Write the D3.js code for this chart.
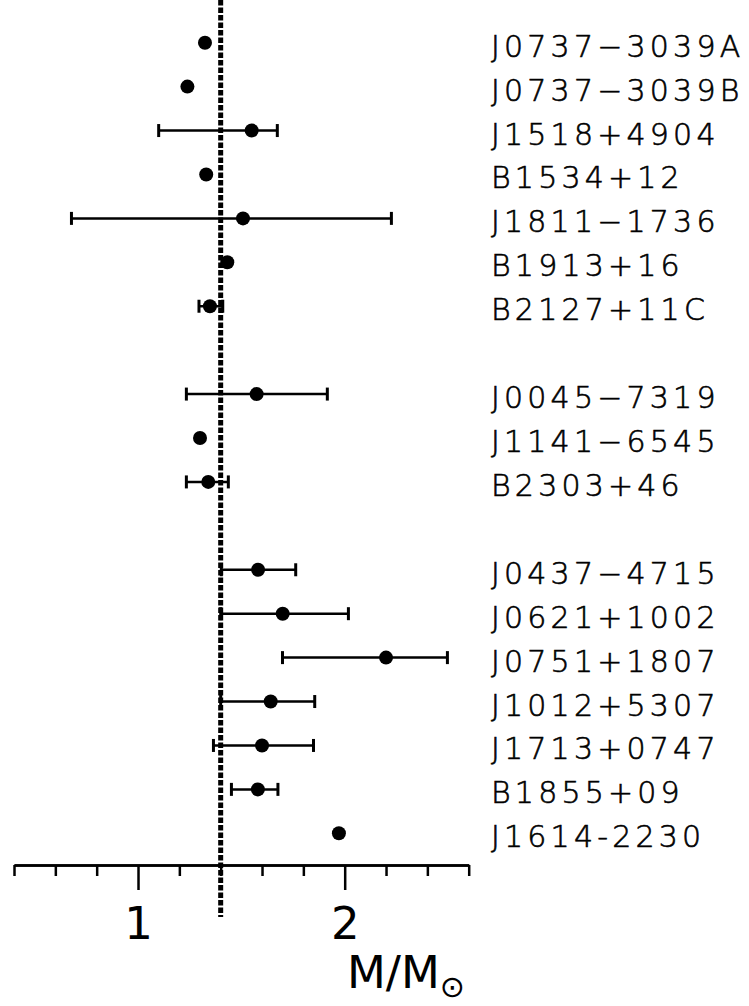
<!DOCTYPE html>
<html>
<head>
<meta charset="utf-8">
<script src="https://cdn.jsdelivr.net/npm/d3@7"></script>
<style>
  body { margin: 0; background: #fff; }
  svg { display: block; }
</style>
</head>
<body>
<div id="chart"></div>
<script>
// pulsar names, one per row (null = empty separator row)
const names = [
  "J0737\u22123039A", "J0737\u22123039B", "J1518+4904", "B1534+12", "J1811\u22121736",
  "B1913+16", "B2127+11C", null,
  "J0045\u22127319", "J1141\u22126545", "B2303+46", null,
  "J0437\u22124715", "J0621+1002", "J0751+1807", "J1012+5307", "J1713+0747",
  "B1855+09", "J1614-2230"
];
// mass in solar masses, and error bar ends (null = no visible bar)
const mass = [1.324, 1.239, 1.55, 1.33, 1.508, 1.432, 1.348, null,
  1.574, 1.30, 1.34, null,
  1.581, 1.70, 2.20, 1.642, 1.60, 1.58, 1.972];
const errLow = [null, null, 1.10, null, 0.678, null, 1.295, null,
  1.234, null, 1.234, null,
  1.403, 1.40, 1.699, 1.40, 1.365, 1.452, null];
const errHigh = [null, null, 1.674, null, 2.226, null, 1.41, null,
  1.916, null, 1.437, null,
  1.763, 2.018, 2.497, 1.855, 1.849, 1.677, null];

const minorTicks = [0.4, 0.6, 0.8, 1.2, 1.4, 1.6, 1.8, 2.2, 2.4, 2.6];
const majorTicks = [1, 2];
const refMass = 1.4;

const width = 749, height = 1006;

const svg = d3.select("#chart").append("svg")
  .attr("width", width)
  .attr("height", height);

const x = d3.scaleLinear().domain([0.4, 2.6]).range([14, 468.7]);
const y = d3.scaleLinear().domain([0, 18]).range([42.7, 833.3]);

const rows = names.map((n, i) => ({ name: n, m: mass[i], lo: errLow[i], hi: errHigh[i], i }))
  .filter(d => d.name !== null);

// dashed reference line
svg.append("line")
  .attr("x1", x(refMass)).attr("x2", x(refMass))
  .attr("y1", 0).attr("y2", 917)
  .attr("stroke", "#000")
  .attr("stroke-width", 5)
  .attr("stroke-dasharray", "5.5,2");

// axis
const axisY = 865;
const minorAxis = d3.axisBottom(x).tickValues(minorTicks).tickSize(11).tickSizeOuter(0).tickFormat("");
const majorAxis = d3.axisBottom(x).tickValues(majorTicks).tickSize(25).tickSizeOuter(0).tickPadding(17)
  .tickFormat(d3.format("d"));

const gMinor = svg.append("g").attr("transform", `translate(0,${axisY})`).call(minorAxis);
const gMajor = svg.append("g").attr("transform", `translate(0,${axisY})`).call(majorAxis);
[gMinor, gMajor].forEach(g => {
  g.selectAll("path, line").attr("stroke", "#000").attr("stroke-width", 2.5);
  g.selectAll("text")
    .attr("fill", "#000")
    .style("font-family", "DejaVu Sans")
    .style("font-size", "45px");
});

// axis title
svg.append("text")
  .attr("x", 347)
  .attr("y", 988)
  .style("font-family", "DejaVu Sans")
  .style("font-size", "45px")
  .text("M/M")
  .append("tspan")
  .attr("dy", 9)
  .style("font-size", "30px")
  .text("\u2299");

// error bars
const bars = rows.filter(d => d.lo !== null);
const cap = 6.5;
const eb = svg.append("g").attr("stroke", "#000").attr("stroke-width", 2.5);
eb.selectAll(".bar").data(bars).enter().append("line")
  .attr("x1", d => x(d.lo)).attr("x2", d => x(d.hi))
  .attr("y1", d => y(d.i)).attr("y2", d => y(d.i));
eb.selectAll(".capL").data(bars).enter().append("line")
  .attr("stroke-width", 3)
  .attr("x1", d => x(d.lo)).attr("x2", d => x(d.lo))
  .attr("y1", d => y(d.i) - cap).attr("y2", d => y(d.i) + cap);
eb.selectAll(".capR").data(bars).enter().append("line")
  .attr("stroke-width", 3)
  .attr("x1", d => x(d.hi)).attr("x2", d => x(d.hi))
  .attr("y1", d => y(d.i) - cap).attr("y2", d => y(d.i) + cap);

// points
svg.selectAll(".pt").data(rows).enter().append("circle")
  .attr("cx", d => x(d.m))
  .attr("cy", d => y(d.i))
  .attr("r", 7)
  .attr("fill", "#000");

// labels
svg.selectAll(".lbl").data(rows).enter().append("text")
  .attr("x", 491)
  .attr("y", d => y(d.i) + 14)
  .attr("stroke", "#000")
  .attr("stroke-width", 0.6)
  .style("font-family", "DejaVu Sans")
  .style("font-weight", 200)
  .style("font-size", "30px")
  .style("letter-spacing", "4.2px")
  .text(d => d.name);
</script>
</body>
</html>
